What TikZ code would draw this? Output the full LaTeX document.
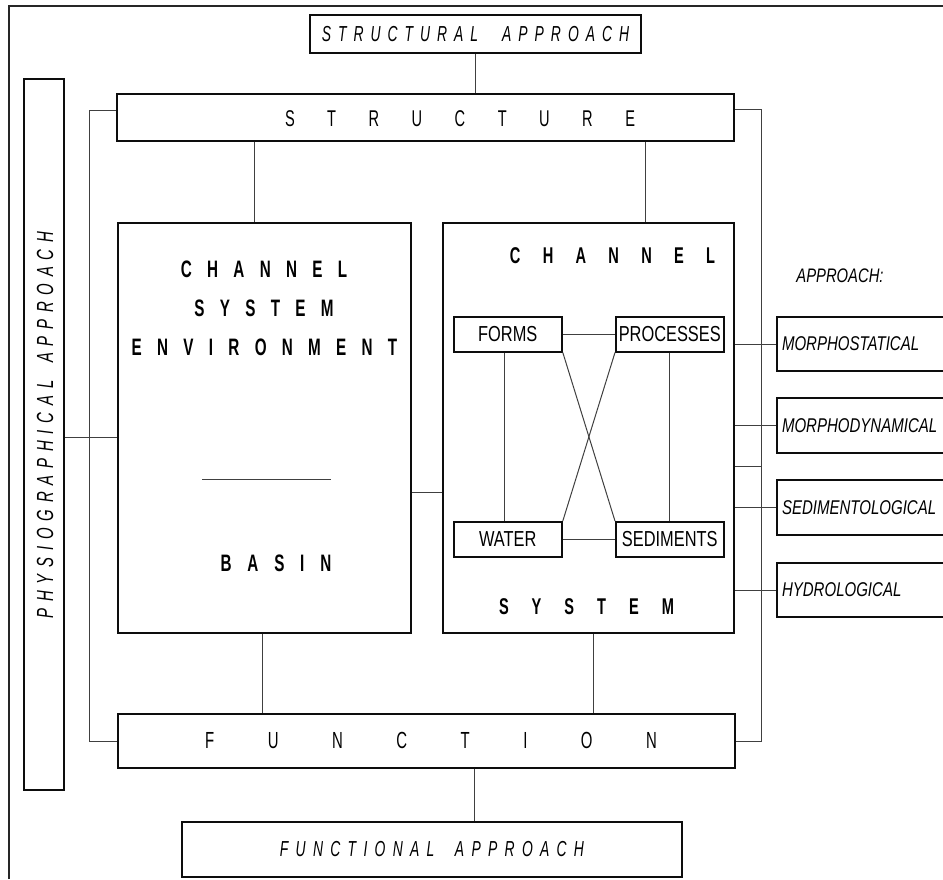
\documentclass[tikz,border=0pt]{standalone}
\usepackage{fontspec}
\setmainfont{Liberation Sans}
\newfontfamily\condA[FakeStretch=0.64]{Liberation Sans}
\newfontfamily\condB[FakeStretch=0.755]{Liberation Sans}
\newfontfamily\condC[FakeStretch=0.755]{Liberation Sans}
\makeatletter
\def\spc#1#2#3{\def\sp@gap{\hspace{#1}}\def\W{\hspace{#2}}\sp@a#3\relax}
\def\sp@a#1{\ifx\relax#1\else#1\expandafter\sp@b\fi}
\def\sp@b#1{\ifx\relax#1\else\sp@gap#1\expandafter\sp@b\fi}
\makeatother
\begin{document}
\begin{tikzpicture}[x=1pt,y=-1pt,
  box/.style={draw=black!95, line width=2pt, inner sep=0pt, anchor=north west},
  sbox/.style={draw=black!95, line width=1.8pt, inner sep=0pt, anchor=north west,
    font=\condC\fontsize{21.7pt}{23pt}\selectfont},
  rbox/.style={box, minimum width=190, text width=180, align=left, inner xsep=5pt,
    font=\condB\itshape\fontsize{19.9pt}{22pt}\selectfont},
  conn/.style={draw=black!75, line width=1pt},
  frame/.style={draw=black!85, line width=1.4pt},
  bigit/.style={font=\condA\itshape\fontsize{21.7pt}{23pt}\selectfont},
  spaced/.style={font=\condA\fontsize{22.8pt}{25pt}\selectfont, inner sep=0pt},
  boldsp/.style={font=\condA\bfseries\fontsize{23.8pt}{25pt}\selectfont, inner sep=0pt}]
\useasboundingbox (0,0) rectangle (943,879);

% frame
\draw[frame] (9,879) -- (9,6) -- (943,6);

% main boxes
\node[box, minimum width=331, minimum height=38, bigit] (sa) at (309,14)
  {\spc{7pt}{10pt}{STRUCTURAL\W APPROACH}};
\node[box, minimum width=617, minimum height=47] (st) at (116,93) {};
\node[spaced] (sttext) at (460,119) {\spc{32.5pt}{0pt}{STRUCTURE}};
\node[box, minimum width=40, minimum height=711] (ph) at (22.7,77.5) {};
\node[font=\condA\itshape\fontsize{23.3pt}{25pt}\selectfont, rotate=90, inner sep=0pt] (phtext) at (45,425)
  {\spc{6.8pt}{4pt}{PHYSIOGRAPHICAL\W APPROACH}};
\node[box, minimum width=293, minimum height=410] (cse) at (117,222) {};
\node[box, minimum width=291, minimum height=410] (ch) at (442,222) {};
\node[box, minimum width=616.6, minimum height=54] (fn) at (117,713) {};
\node[spaced, font=\condA\fontsize{23.3pt}{25pt}\selectfont] (fntext) at (431,740) {\spc{53.5pt}{0pt}{FUNCTION}};
\node[box, minimum width=500, minimum height=55, bigit] (fa) at (181,821)
  {\spc{7.3pt}{6pt}{FUNCTIONAL\W APPROACH}};

% texts in channel system environment box
\node[boldsp] (t1) at (264,269) {\spc{15.3pt}{0pt}{CHANNEL}};
\node[boldsp] (t2) at (264,308) {\spc{15.3pt}{0pt}{SYSTEM}};
\node[boldsp] (t3) at (264.5,347) {\spc{15.3pt}{0pt}{ENVIRONMENT}};
\node[boldsp] (t4) at (276,563) {\spc{15.8pt}{0pt}{BASIN}};
\draw[conn] (202,479) -- (331,479);

% texts in channel box
\node[boldsp, font=\condA\bfseries\fontsize{22.8pt}{25pt}\selectfont] (c1) at (612.5,256) {\spc{22.3pt}{0pt}{CHANNEL}};
\node[boldsp, font=\condA\bfseries\fontsize{22.8pt}{25pt}\selectfont] (c2) at (586.5,607) {\spc{23pt}{0pt}{SYSTEM}};

% inner boxes
\node[sbox, minimum width=108.3, minimum height=35] (fo) at (452.7,315.7) {FORMS};
\node[sbox, minimum width=107.7, minimum height=35] (pr) at (615,315.7) {PROCESSES};
\node[sbox, minimum width=108.3, minimum height=35] (wa) at (452.7,521) {WATER};
\node[sbox, minimum width=107.7, minimum height=35] (se) at (615,521) {SEDIMENTS};

% right side
\node[font=\condB\itshape\fontsize{19.6pt}{21pt}\selectfont, inner sep=0pt] (ap) at (840,276) {APPROACH:};
\node[rbox, minimum height=54] (ms) at (776,316) {MORPHOSTATICAL};
\node[rbox, minimum height=55] (md) at (776,397) {MORPHODYNAMICAL};
\node[rbox, minimum height=55] (sd) at (776,479) {SEDIMENTOLOGICAL};
\node[rbox, minimum height=54] (hy) at (776,562) {HYDROLOGICAL};

% connectors
\coordinate (lb) at (89.5,0);
\coordinate (rb) at (761,0);
\draw[conn] (sa.south) -- (sa.south |- st.north);
\draw[conn] (254,0 |- st.south) -- (254,0 |- cse.north);
\draw[conn] (645,0 |- st.south) -- (645,0 |- ch.north);
\draw[conn] (262,0 |- cse.south) -- (262,0 |- fn.north);
\draw[conn] (593,0 |- ch.south) -- (593,0 |- fn.north);
\draw[conn] (474.5,0 |- fn.south) -- (474.5,0 |- fa.north);
\draw[conn] (st.west |- 0,110) -- (lb |- 0,110) -- (lb |- fn.west) -- (fn.west);
\draw[conn] (st.east |- 0,109) -- (rb |- 0,109) -- (rb |- fn.east) -- (fn.east);
\draw[conn] (ph.east |- 0,437) -- (cse.west |- 0,437);
\draw[conn] (cse.east |- 0,492.5) -- (ch.west |- 0,492.5);
\draw[conn] (ch.east |- ms.west) -- (ms.west);
\draw[conn] (ch.east |- md.west) -- (md.west);
\draw[conn] (ch.east |- 0,466) -- (rb |- 0,466);
\draw[conn] (ch.east |- sd.west) -- (sd.west);
\draw[conn] (ch.east |- hy.west) -- (hy.west);
\draw[conn] (fo.east |- 0,334) -- (pr.west |- 0,334);
\draw[conn] (wa.east) -- (se.west);
\draw[conn] (504,0 |- fo.south) -- (504,0 |- wa.north);
\draw[conn] (pr.south) -- (se.north);
\draw[conn] (fo.south east) -- (se.north west);
\draw[conn] (pr.south west) -- (wa.north east);
\end{tikzpicture}
\end{document}
